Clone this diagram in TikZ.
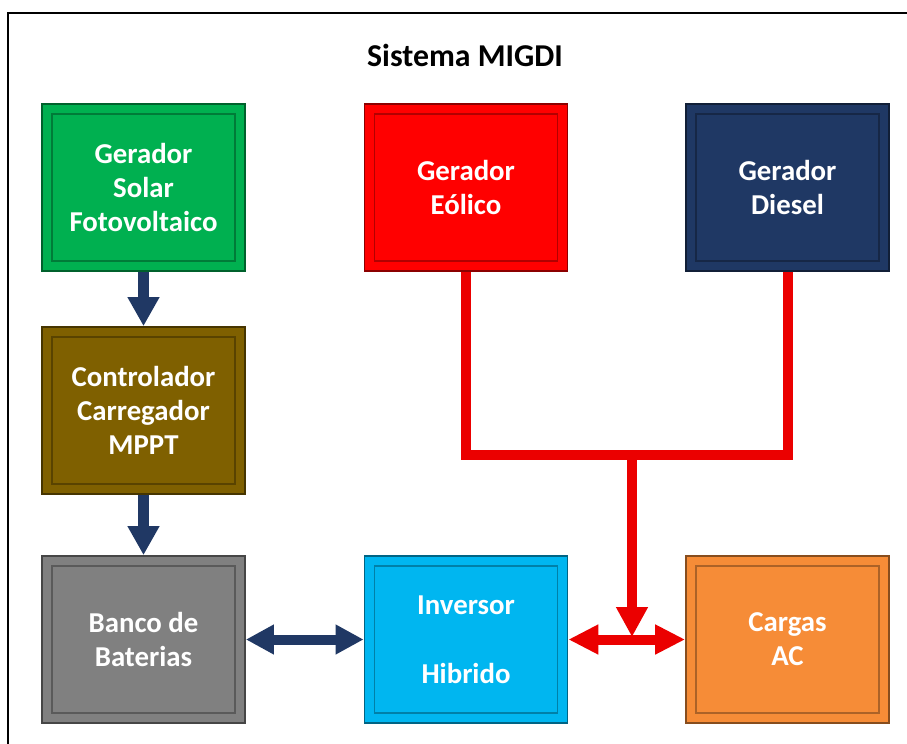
\documentclass[tikz,border=0pt]{standalone}
\usepackage{fontspec}
\setmainfont{Carlito}
\usetikzlibrary{arrows.meta}
\definecolor{solar}{RGB}{0,176,80}
\definecolor{eolico}{RGB}{255,0,0}
\definecolor{diesel}{RGB}{31,56,100}
\definecolor{controle}{RGB}{127,96,0}
\definecolor{bateria}{RGB}{128,128,128}
\definecolor{inversor}{RGB}{0,182,240}
\definecolor{carga}{RGB}{246,140,55}
\definecolor{seta}{RGB}{32,56,100}
\definecolor{linha}{RGB}{235,0,0}
\begin{document}
\begin{tikzpicture}
      [
      x=0.02cm, y=-0.02cm,
      block/.style={rectangle,fill=#1,draw=#1!55!black,line width=1pt,inner sep=0pt,
        minimum width=4.06cm,minimum height=3.34cm,align=center,text=white,
        font=\fontsize{16.4}{19.3}\selectfont\bfseries,
        path picture={\draw [#1!70!black,line width=0.8pt]
          ([shift={(0.2cm,0.2cm)}]path picture bounding box.south west) rectangle
          ([shift={(-0.2cm,-0.2cm)}]path picture bounding box.north east);}},
      bluearrow/.style={draw=seta,line width=0.22cm,-{Triangle[length=0.58cm,width=0.6cm]}},
      bluedouble/.style={draw=seta,line width=0.2cm,{Triangle[length=0.56cm,width=0.56cm]}-{Triangle[length=0.56cm,width=0.56cm]}},
      redline/.style={draw=linha,line width=0.2cm,line join=miter},
      redarrow/.style={draw=linha,line width=0.2cm,-{Triangle[length=0.6cm,width=0.6cm]}},
      reddouble/.style={draw=linha,line width=0.2cm,{Triangle[length=0.6cm,width=0.56cm]}-{Triangle[length=0.6cm,width=0.56cm]}}
      ]
      \useasboundingbox (0,0) rectangle (907,744);
      \clip (0,0) rectangle (907,744);
      \draw [line width=1.7pt] (8,770) -- (8,13) -- (930,13);
      \node (title) at (465,55) [font=\fontsize{18.1}{21}\selectfont\bfseries] {Sistema MIGDI};

      \node (sol) at (143.5,187.5) [block=solar] {Gerador\\Solar\\Fotovoltaico};
      \node (eol) at (466,187.5) [block=eolico] {Gerador\\E\'olico};
      \node (die) at (787.5,187.5) [block=diesel] {Gerador\\Diesel};
      \node (ctl) at (143.5,410.5) [block=controle] {Controlador\\Carregador\\MPPT};
      \node (bat) at (143.5,639.5) [block=bateria] {Banco de\\Baterias};
      \node (inv) at (466,639.5) [block=inversor] {Inversor\\[20pt]Hibrido};
      \node (car) at (787.5,639.5) [block=carga] {Cargas\\AC};

      \coordinate (bus) at (632,455);
      \coordinate (tip) at (632,637);
      \draw [bluearrow] (sol) -- (ctl);
      \draw [bluearrow] (ctl) -- (bat);
      \draw [bluedouble] (bat) -- (inv);
      \draw [redline] (eol) |- (bus) -| (die);
      \draw [redarrow] (bus) -- (tip);
      \draw [reddouble] (inv) -- (car);
    \end{tikzpicture}
\end{document}
